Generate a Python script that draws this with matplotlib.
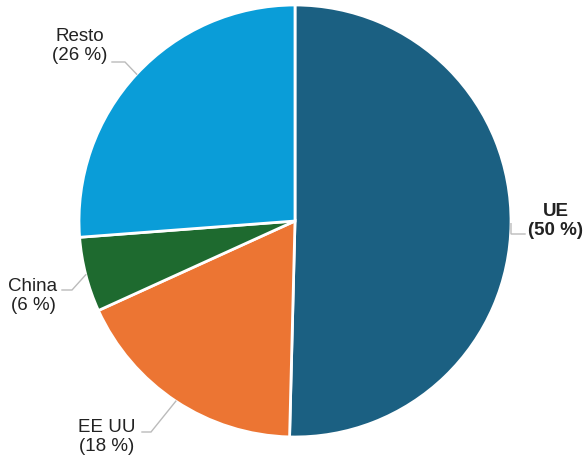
import numpy as np
import matplotlib
matplotlib.use("Agg")
from matplotlib import pyplot as plt

plt.rcParams['font.family'] = ['Liberation Sans', 'DejaVu Sans']

regions = ["UE", "EE UU", "China", "Resto"]
shares = [50.4, 17.8, 5.6, 26.2]
labels = ["UE\n(50 %)", "EE UU\n(18 %)", "China\n(6 %)", "Resto\n(26 %)"]
colors = ["#1b6082", "#ec7533", "#1e6a2f", "#0a9dd8"]

W, H = 585, 459
cx, cy, r = 295, H - 221, 216

# label layout in image pixels (y down): elbow, line end, text centre
layout = {
    "UE":    ((511, 234), (525, 234), (556, 221)),
    "EE UU": ((151, 432), (142, 432), (107, 437)),
    "China": ((72, 290), (62, 290), (33, 296)),
    "Resto": ((125, 62), (112, 62), (80, 46)),
}

fig = plt.figure(figsize=(W / 100, H / 100), dpi=100)
ax = fig.add_axes([0, 0, 1, 1])
wedges, _ = ax.pie(shares, colors=colors, startangle=90, counterclock=False,
                   center=(cx, cy), radius=r,
                   wedgeprops=dict(edgecolor="white", linewidth=2))
ax.set_xlim(0, W)
ax.set_ylim(0, H)
ax.set_aspect("equal")
ax.axis("off")

for w, name, lab in zip(wedges, regions, labels):
    mid = np.deg2rad((w.theta1 + w.theta2) / 2)
    ex, ey = cx + r * np.cos(mid), cy + r * np.sin(mid)
    (bx, by), (lx, ly), (tx, ty) = layout[name]
    ax.plot([ex, bx, lx], [ey, H - by, H - ly], color="#bbbbbb", lw=1,
            solid_joinstyle="miter")
    ax.text(tx, H - ty, lab, ha="center", va="center", fontsize=13.5,
            color="#222222", linespacing=1.15,
            fontweight="bold" if name == "UE" else "normal")

fig.savefig("out.png", dpi=100)
